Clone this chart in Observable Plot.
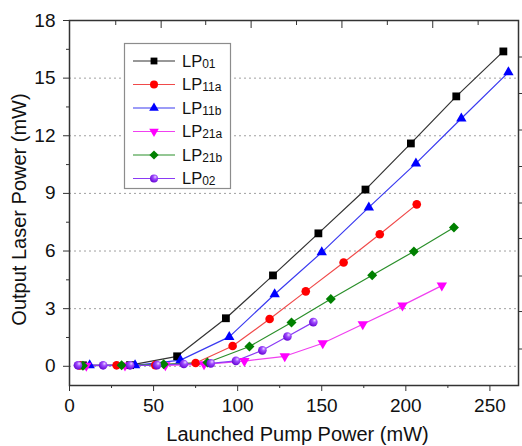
<!DOCTYPE html>
<html>
<head>
<meta charset="utf-8">
<script src="https://cdn.jsdelivr.net/npm/d3@7"></script>
<script src="https://cdn.jsdelivr.net/npm/@observablehq/plot@0.6"></script>
<style>
  html, body { margin: 0; padding: 0; background: white; }
</style>
</head>
<body>
<div id="chart"></div>
<script>
// ---------- data ----------
const lp01X  = [8, 36, 64, 93, 121, 148, 176, 203, 230, 258];
const lp01Y  = [0.05, 0.06, 0.52, 2.5, 4.73, 6.92, 9.2, 11.6, 14.05, 16.39];
const lp11aX = [6, 28, 51, 75, 97, 119, 140.5, 163, 184.5, 206.5];
const lp11aY = [0.04, 0.05, 0.06, 0.17, 1.06, 2.46, 3.9, 5.4, 6.87, 8.43];
const lp11bX = [12, 39, 66, 95, 122, 150, 178, 206, 233, 261];
const lp11bY = [0.05, 0.05, 0.32, 1.53, 3.75, 5.93, 8.27, 10.56, 12.9, 15.3];
const lp21aX = [10, 33, 57, 80, 104, 128, 150.6, 174.4, 198, 221.4];
const lp21aY = [0.03, 0.04, 0.05, 0.1, 0.27, 0.52, 1.2, 2.19, 3.17, 4.2];
const lp21bX = [8, 31, 56, 82, 107, 132, 155.4, 180, 204.8, 228.6];
const lp21bY = [0.03, 0.05, 0.1, 0.2, 1.03, 2.28, 3.5, 4.74, 5.98, 7.23];
const lp02X  = [5, 20, 36, 52, 68, 84, 99, 114.7, 129.6, 145];
const lp02Y  = [0.05, 0.05, 0.05, 0.06, 0.12, 0.15, 0.28, 0.83, 1.55, 2.3];

const seriesSubs = ["01", "11a", "11b", "21a", "21b", "02"];

const xMajorTicks = [0, 50, 100, 150, 200, 250];
const xMinorTicks = [25, 75, 125, 175, 225];
const yMajorTicks = [0, 3, 6, 9, 12, 15, 18];
const yMinorTicks = [1.5, 4.5, 7.5, 10.5, 13.5, 16.5];
const gridTicks   = [0, 3, 6, 9, 12, 15];
const topMajorTicks = [54.5, 108, 162, 216];
const topMinorTicks = [27.5, 81, 135, 189, 243];
const rightTicks  = [0.9, 2.85, 4.7, 6.65, 8.5, 10.4, 12.3, 14.2, 16.1];

const xTitle = "Launched Pump Power (mW)";
const yTitle = "Output Laser Power (mW)";

// ---------- custom marker shapes ----------
const k = size => Math.sqrt(size / Math.PI);
const symSquare = { draw(c, s) { const r = k(s); c.rect(-r, -r, 2 * r, 2 * r); } };
const symCircle = { draw(c, s) { const r = k(s); c.moveTo(r, 0); c.arc(0, 0, r, 0, 2 * Math.PI); } };
const symTriUp = { draw(c, s) { const r = k(s); c.moveTo(0, -1.155 * r); c.lineTo(r, 0.577 * r); c.lineTo(-r, 0.577 * r); c.closePath(); } };
const symTriDown = { draw(c, s) { const r = k(s); c.moveTo(0, 1.155 * r); c.lineTo(r, -0.577 * r); c.lineTo(-r, -0.577 * r); c.closePath(); } };
const symDiamond = { draw(c, s) { const r = k(s); c.moveTo(0, -r); c.lineTo(r, 0); c.lineTo(0, r); c.lineTo(-r, 0); c.closePath(); } };

const series = [
  { sub: seriesSubs[0], xs: lp01X,  ys: lp01Y,  line: "#333333", fill: "#000000", symbol: symSquare,  r: 3.9, lr: 3.4 },
  { sub: seriesSubs[1], xs: lp11aX, ys: lp11aY, line: "#f04a4a", fill: "#ff0000", symbol: symCircle,  r: 4.3, lr: 4.0 },
  { sub: seriesSubs[2], xs: lp11bX, ys: lp11bY, line: "#3a3af0", fill: "#0000ff", symbol: symTriUp,   r: 5.2, lr: 4.8 },
  { sub: seriesSubs[3], xs: lp21aX, ys: lp21aY, line: "#f040f0", fill: "#ff00ff", symbol: symTriDown, r: 5.2, lr: 4.8 },
  { sub: seriesSubs[4], xs: lp21bX, ys: lp21bY, line: "#2a8f2a", fill: "#008000", symbol: symDiamond, r: 5.0, lr: 4.6 },
  { sub: seriesSubs[5], xs: lp02X,  ys: lp02Y,  line: "#8a3af5", fill: "url(#lp02grad)", symbol: symCircle, r: 4.3, lr: 4.0 }
];
series.forEach(s => { s.rows = s.xs.map((x, i) => ({ x, y: s.ys[i] })); });

// defs (sphere gradient)
const defsMark = () => {
  const defs = d3.create("svg:defs");
  const g = defs.append("radialGradient").attr("id", "lp02grad")
    .attr("cx", "0.62").attr("cy", "0.35").attr("r", "0.7").attr("fx", "0.65").attr("fy", "0.3");
  g.append("stop").attr("offset", "0%").attr("stop-color", "#ead6ff");
  g.append("stop").attr("offset", "35%").attr("stop-color", "#a04cff");
  g.append("stop").attr("offset", "100%").attr("stop-color", "#6200d0");
  return defs.node();
};

// legend (inside plot area, top-left)
const legendMark = () => {
  const g = d3.create("svg:g");
  g.append("rect").attr("x", 124.5).attr("y", 43.5).attr("width", 106).attr("height", 145)
    .attr("fill", "white").attr("stroke", "#8c8c8c").attr("stroke-width", 1.2);
  series.forEach((s, i) => {
    const cy = 61 + i * 23.5;
    g.append("line").attr("x1", 133).attr("x2", 175).attr("y1", cy).attr("y2", cy)
      .attr("stroke", s.line).attr("stroke-width", 1.2);
    g.append("path").attr("d", d3.symbol(s.symbol, Math.PI * s.lr * s.lr)())
      .attr("transform", `translate(154,${cy})`).attr("fill", s.fill);
    const t = g.append("text").attr("x", 182).attr("y", cy + 5.8)
      .attr("text-anchor", "start")
      .attr("font-size", 16.5).attr("fill", "#111");
    t.append("tspan").text("LP");
    t.append("tspan").attr("font-size", 12).attr("dy", 0.8).text(s.sub);
  });
  return g.node();
};

const noLabel = () => "";

const marks = [
  defsMark,
  Plot.gridY(gridTicks, { stroke: "#a0a0a0", strokeOpacity: 1, strokeDasharray: "2,3", strokeWidth: 1 }),
  Plot.axisY({ ticks: yMajorTicks, tickSize: 6, tickPadding: 8, label: null, stroke: "#333" }),
  Plot.axisY({ ticks: yMinorTicks, tickSize: 3, tickFormat: noLabel, label: null, stroke: "#333" }),
  Plot.axisX({ ticks: xMajorTicks, tickSize: 6, tickPadding: 7, label: null, stroke: "#333" }),
  Plot.axisX({ ticks: xMinorTicks, tickSize: 3, tickFormat: noLabel, label: null, stroke: "#333" }),
  Plot.axisX({ anchor: "top", ticks: topMajorTicks, tickSize: -7, tickFormat: noLabel, label: null, stroke: "#333" }),
  Plot.axisX({ anchor: "top", ticks: topMinorTicks, tickSize: -4, tickFormat: noLabel, label: null, stroke: "#333" }),
  Plot.axisY({ anchor: "right", ticks: rightTicks, tickSize: 4, tickFormat: noLabel, label: null, stroke: "#333" })
];
series.forEach(s => {
  marks.push(Plot.line(s.rows, { x: "x", y: "y", stroke: s.line, strokeWidth: 1.2 }));
});
series.forEach(s => {
  marks.push(Plot.dot(s.rows, { x: "x", y: "y", symbol: s.symbol, r: s.r, fill: s.fill, stroke: "none" }));
});
marks.push(Plot.frame({ stroke: "#333", strokeWidth: 1.5 }));
marks.push(Plot.text([xTitle], { text: d => d, frameAnchor: "bottom", dx: 3.5, dy: 49.5, lineAnchor: "middle", textAnchor: "middle", fontSize: 20, fill: "#111" }));
marks.push(Plot.text([yTitle], { text: d => d, frameAnchor: "left", rotate: -90, dx: -49.5, dy: 6.5, lineAnchor: "middle", textAnchor: "middle", fontSize: 20, fill: "#111" }));
marks.push(legendMark);

const chart = Plot.plot({
  width: 522,
  height: 446,
  marginLeft: 69,
  marginRight: 4,
  marginTop: 20,
  marginBottom: 61,
  x: { domain: [0, 267] },
  y: { domain: [-1, 18] },
  style: { fontFamily: "'Liberation Sans', Arial, sans-serif", fontSize: "19px", color: "#111", background: "white" },
  marks
});
document.getElementById("chart").appendChild(chart);
</script>
</body>
</html>
